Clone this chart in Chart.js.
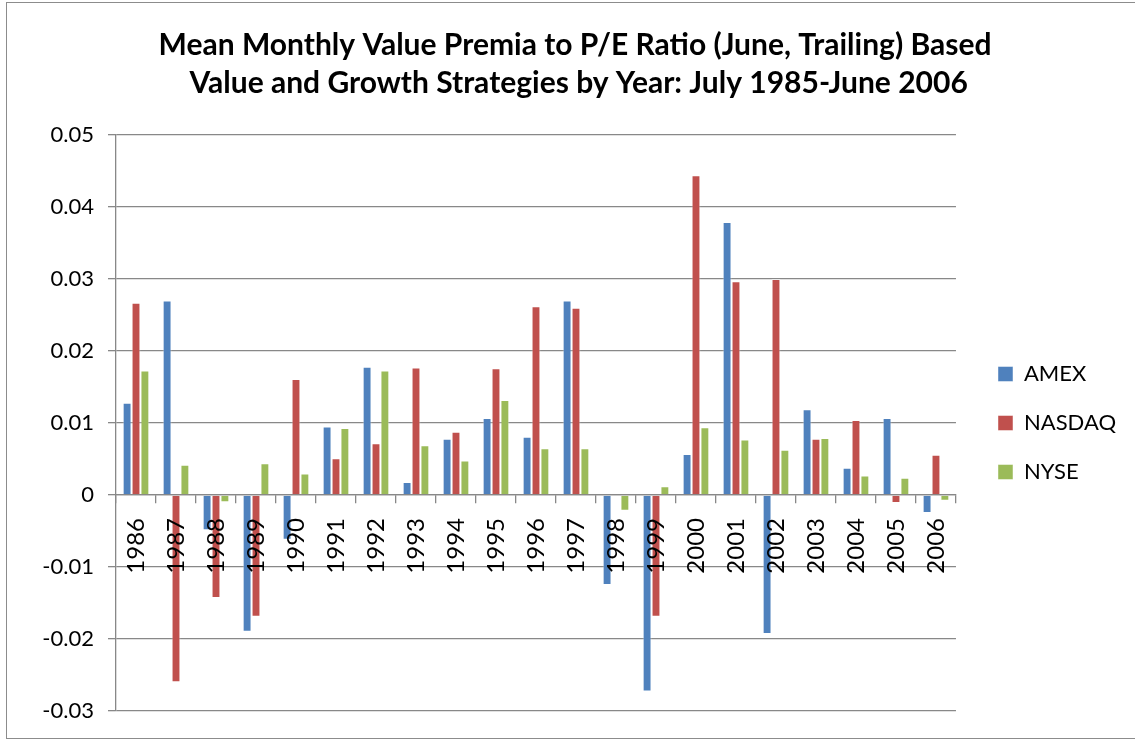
<!DOCTYPE html>
<html>
<head>
<meta charset="utf-8">
<script src="https://cdn.jsdelivr.net/npm/chart.js@4.4.0/dist/chart.umd.min.js"></script>
<style>
  html, body { margin: 0; padding: 0; background: #fff; }
  #wrap { position: relative; width: 1135px; height: 740px; overflow: hidden; }
  #frame { position: absolute; left: 6px; top: 2px; width: 1135px; height: 737px;
           border: 1px solid #8c8c8c; border-right: none; box-sizing: border-box; }
  canvas { position: absolute; left: 0; top: 0; }
</style>
</head>
<body>
<div id="wrap">
  <div id="frame"></div>
  <canvas id="chart" width="1135" height="740"></canvas>
</div>
<script>
const years = ["1986", "1987", "1988", "1989", "1990", "1991", "1992", "1993", "1994", "1995", "1996",
               "1997", "1998", "1999", "2000", "2001", "2002", "2003", "2004", "2005", "2006"];

const amex = [0.0128, 0.0270, -0.0049, -0.0190, -0.0062, 0.0095, 0.0178, 0.0018, 0.0078, 0.0107, 0.0081,
              0.0270, -0.0125, -0.0273, 0.0057, 0.0379, -0.0193, 0.0119, 0.0038, 0.0107, -0.0025];
const nasdaq = [0.0267, -0.0260, -0.0143, -0.0169, 0.0161, 0.0051, 0.0072, 0.0177, 0.0088, 0.0176, 0.0262,
                0.0260, 0, -0.0169, 0.0444, 0.0297, 0.0300, 0.0078, 0.0104, -0.0011, 0.0056];
const nyse = [0.0173, 0.0042, -0.0010, 0.0044, 0.0030, 0.0093, 0.0173, 0.0069, 0.0048, 0.0132, 0.0065,
              0.0065, -0.0022, 0.0012, 0.0094, 0.0077, 0.0063, 0.0079, 0.0027, 0.0024, -0.0008];

const yTicks = [-0.03, -0.02, -0.01, 0, 0.01, 0.02, 0.03, 0.04, 0.05];

const font = "Lato, 'Open Sans', sans-serif";
const gridGray = "#888888";
const edge = "rgba(255,255,255,0.45)";

new Chart(document.getElementById("chart"), {
    type: "bar",
    data: {
        labels: years,
        datasets: [
            { label: "AMEX", data: amex, backgroundColor: "#4F81BD", borderColor: edge, borderWidth: 1 },
            { label: "NASDAQ", data: nasdaq, backgroundColor: "#C0504D", borderColor: edge, borderWidth: 1 },
            { label: "NYSE", data: nyse, backgroundColor: "#9BBB59", borderColor: edge, borderWidth: 1 }
        ]
    },
    options: {
        responsive: false,
        animation: false,
        layout: { padding: { left: 24, right: 9, top: 0, bottom: 29 } },
        datasets: { bar: { categoryPercentage: 0.667, barPercentage: 1 } },
        plugins: {
            title: {
                display: true,
                text: ["Mean Monthly Value Premia to P/E Ratio (June, Trailing) Based",
                       " Value and Growth Strategies by Year: July 1985-June 2006"],
                color: "#000",
                font: { family: font, size: 30, weight: "bold", lineHeight: "38px" },
                padding: { top: 26, bottom: 33 }
            },
            legend: {
                position: "right",
                fullSize: false,
                labels: {
                    color: "#000",
                    font: { family: font, size: 22 },
                    boxWidth: 15,
                    boxHeight: 15,
                    padding: 27
                }
            },
            tooltip: { enabled: false }
        },
        scales: {
            x: {
                position: { y: 0 },
                grid: { offset: true, drawOnChartArea: false, drawTicks: true, tickLength: 8, color: gridGray, lineWidth: 1.3 },
                border: { color: gridGray, width: 1.3 },
                ticks: { z: 1, color: "#000", font: { family: font, size: 24 }, minRotation: 90, maxRotation: 90, padding: 15, autoSkip: false }
            },
            y: {
                min: -0.03,
                max: 0.05,
                afterBuildTicks: s => { s.ticks = yTicks.map(v => ({ value: v })); },
                afterFit: s => { s.width = 92; },
                grid: { color: gridGray, lineWidth: 1.3, tickLength: 8 },
                border: { color: gridGray, width: 1.3 },
                ticks: {
                    color: "#000",
                    font: { family: font, size: 22 },
                    padding: 14,
                    callback: v => String(parseFloat(v.toFixed(2)))
                }
            },
            // empty spacer between the plot and the legend
            gap: {
                type: "linear",
                position: "right",
                display: true,
                grid: { display: false },
                border: { display: false },
                ticks: { display: false },
                afterFit: s => { s.width = 15; }
            }
        }
    }
});
</script>
</body>
</html>
